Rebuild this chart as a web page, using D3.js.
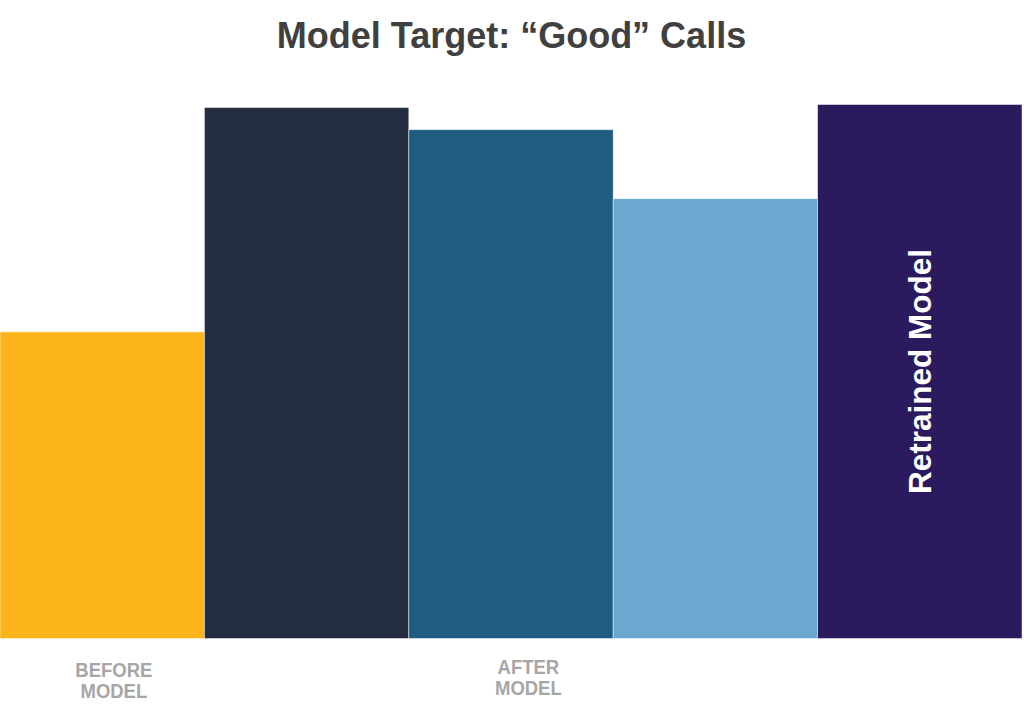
<!DOCTYPE html>
<html>
<head>
<meta charset="utf-8">
<script src="https://cdn.jsdelivr.net/npm/d3@7"></script>
<style>
  html, body { margin: 0; padding: 0; background: #fff; }
  svg { display: block; }
</style>
</head>
<body>
<script>
// bars (no axis in the original, values read as relative heights)
var categories = ["Before", "After A", "After B", "After C", "Retrained"];
var values = [51.1, 88.5, 84.8, 73.3, 89.0];
var colors = ["#fbb41a", "#232d3f", "#1f5c82", "#6ba7cf", "#2b1a5e"];

// group labels under the bars
var groupLabels = [["BEFORE", "MODEL"], ["AFTER", "MODEL"]];
var groupAnchor = ["Before", "After B"];
var groupOffset = [0.557, 0.585];

var barText = "Retrained Model";
var title = "Model Target: \u201cGood\u201d Calls";

var width = 1024, height = 715;

var svg = d3.select("body").append("svg")
    .attr("width", width)
    .attr("height", height);

var x = d3.scaleBand()
    .domain(categories)
    .range([0, 1022])
    .padding(0);

var y = d3.scaleLinear()
    .domain([0, 100])
    .range([638.5, 38.5]);

svg.append("text")
    .attr("x", 511.5)
    .attr("y", 48)
    .attr("text-anchor", "middle")
    .style("font-family", "'Liberation Sans', Arial, sans-serif")
    .style("font-weight", "bold")
    .style("font-size", "36px")
    .style("fill", "#404040")
    .text(title);

svg.selectAll("rect.bar")
    .data(values)
    .enter().append("rect")
    .attr("class", "bar")
    .attr("x", function(d, i) { return x(categories[i]); })
    .attr("y", function(d) { return y(d); })
    .attr("width", x.bandwidth())
    .attr("height", function(d) { return y(0) - y(d); })
    .style("fill", function(d, i) { return colors[i]; })
    .style("stroke", "#fff")
    .style("stroke-opacity", 0.6)
    .style("stroke-width", 0.8);

// label inside the last bar
var last = categories[categories.length - 1];
var cx = x(last) + x.bandwidth() / 2,
    cy = (y(values[values.length - 1]) + y(0)) / 2;
svg.append("text")
    .attr("transform", "translate(" + (cx + 11) + "," + cy + ") rotate(-90)")
    .attr("text-anchor", "middle")
    .style("font-family", "'Liberation Sans', Arial, sans-serif")
    .style("font-weight", "bold")
    .style("font-size", "31.5px")
    .style("fill", "#fff")
    .text(barText);

groupLabels.forEach(function(lines, i) {
    var gx = x(groupAnchor[i]) + x.bandwidth() * groupOffset[i];
    var base = i === 0 ? 676.5 : 674;
    var g = svg.append("g")
        .attr("transform", "translate(" + gx + "," + base + ") scale(0.88,1)");
    g.selectAll("text")
        .data(lines)
        .enter().append("text")
        .attr("x", 0)
        .attr("y", function(d, j) { return j * 21.5; })
        .attr("text-anchor", "middle")
        .style("font-family", "'Liberation Sans', Arial, sans-serif")
        .style("font-weight", "bold")
        .style("font-size", "21px")
        .style("fill", "#a6a6a6")
        .text(function(d) { return d; });
});
</script>
</body>
</html>
